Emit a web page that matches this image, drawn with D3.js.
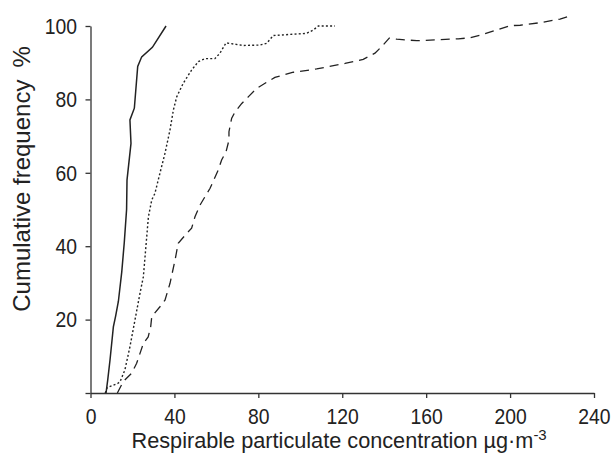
<!DOCTYPE html>
<html>
<head>
<meta charset="utf-8">
<script src="https://cdn.jsdelivr.net/npm/d3@7"></script>
<style>
  body { margin: 0; background: #fff; }
  svg text { font-family: "Liberation Sans", Arial, Helvetica, sans-serif; fill: #222; }
</style>
</head>
<body>
<svg id="chart"></svg>
<script>
// cumulative distributions (concentration, cumulative %)
const solidConc = [7.4, 8.2, 9.3, 10.9, 12, 13.3, 14.9, 16.1, 17.2, 17.4, 19.3, 18.8, 20.9, 22.5, 24.4, 29.5, 36];
const solidFreq = [0, 3.5, 9, 18, 21, 25, 33, 41, 50, 58, 68, 74.4, 77.6, 89, 91.6, 94.2, 100];

const dottedConc = [7, 8, 13, 14.1, 16.4, 18.8, 21.2, 23.6, 25.2, 27.6, 29.2, 30.7, 33.1, 35.5, 37.9, 39.5, 41.1, 44.2, 48.2, 51.4, 54.6, 59.3, 61.7, 64.6, 72.8, 80.8, 84, 87.1, 103, 106.2, 108.6, 116.5];
const dottedFreq = [0, 1.5, 2.6, 3.1, 6.3, 12.6, 19.9, 27.2, 31.7, 48, 52.6, 54.4, 59.9, 65.3, 71.7, 77.1, 80.7, 84.4, 88, 90.3, 91.1, 91.1, 92.6, 95.4, 94.7, 94.8, 95.3, 97.4, 98, 98.9, 100, 100];

const dashedConc = [12.8, 15.6, 19.6, 22, 23.6, 25.2, 27.5, 28.7, 29.2, 33.1, 35.5, 37.9, 40.3, 41.8, 45.9, 48.2, 49.8, 52.2, 57, 60.9, 62.5, 64.6, 66, 66, 67.3, 68.9, 72.1, 75.2, 79.2, 83.2, 87.9, 96.7, 107.8, 121.3, 130, 135.6, 138.8, 142.4, 146, 155.5, 175.3, 180.9, 185.7, 193.6, 200, 204.8, 214.3, 223.8, 229.6];
const dashedFreq = [0, 3.1, 5.4, 8.1, 10.8, 13.5, 15.3, 18.1, 20.8, 23.5, 25.3, 29.9, 36.2, 40.8, 43.5, 44.9, 48, 51.2, 55.8, 60.8, 63.5, 65.7, 68.9, 71.2, 74.9, 76.6, 78.9, 80.7, 83, 84.4, 86, 87.4, 88.3, 89.8, 90.9, 92.6, 94.4, 96.7, 96.4, 96, 96.5, 96.8, 97.5, 98.9, 100.1, 100.2, 100.9, 101.9, 102.9];

const xTicks = [0, 40, 80, 120, 160, 200, 240];
const yTicks = [0, 20, 40, 60, 80, 100];

const svgWidth = 611;
const svgHeight = 463;
const margin = { top: 26, right: 17, bottom: 70, left: 90.5 };
const width = svgWidth - margin.left - margin.right;
const height = svgHeight - margin.top - margin.bottom;
const squeeze = 0.86; // the original type is a condensed face

const svg = d3.select("#chart").attr("width", svgWidth).attr("height", svgHeight);
const g = svg.append("g").attr("transform", `translate(${margin.left},${margin.top})`);

const xScale = d3.scaleLinear().domain([0, 240]).range([0, width]);
const yScale = d3.scaleLinear().domain([0, 100]).range([height, 0]);

// x axis
const xAxis = g.append("g")
  .attr("transform", `translate(0, ${height})`)
  .call(d3.axisBottom(xScale).tickValues(xTicks).tickSize(5).tickPadding(10).tickSizeOuter(0));

// y axis (0 tick drawn but not labelled)
const yAxis = g.append("g")
  .call(d3.axisLeft(yScale).tickValues(yTicks).tickSize(5).tickPadding(13.5 / squeeze - 5).tickSizeOuter(0)
    .tickFormat((d) => (d === 0 ? "" : d)));

[xAxis, yAxis].forEach((a) => {
  a.selectAll("path, line").attr("stroke", "#333").attr("stroke-width", 1.3);
  a.selectAll("text")
    .style("font-size", "22.5px")
    .attr("fill", "#222")
    .attr("transform", `scale(${squeeze},1)`);
});

// lines
const line = d3.line().x((d) => xScale(d[0])).y((d) => yScale(d[1]));
const series = [
  { conc: solidConc, freq: solidFreq, dash: null, w: 1.5 },
  { conc: dottedConc, freq: dottedFreq, dash: "2,2.2", w: 1.4 },
  { conc: dashedConc, freq: dashedFreq, dash: "9,6", w: 1.3 },
];
series.forEach((s) => {
  g.append("path")
    .datum(d3.zip(s.conc, s.freq))
    .attr("fill", "none")
    .attr("stroke", "#222")
    .attr("stroke-width", s.w)
    .attr("stroke-dasharray", s.dash)
    .attr("d", line);
});

// axis titles
const xTitle = svg.append("text")
  .attr("x", 131.5)
  .attr("y", 448)
  .style("font-size", "21.7px");
xTitle.append("tspan").text("Respirable particulate concentration \u00b5g\u00b7m");
xTitle.append("tspan").attr("dy", -8).style("font-size", "15px").text("-3");

const yTitle = svg.append("text")
  .attr("transform", "translate(30,179) rotate(-90)")
  .attr("text-anchor", "middle")
  .style("font-size", "24px");
yTitle.append("tspan").text("Cumulative frequency");
yTitle.append("tspan").attr("dx", 12).text("%");
</script>
</body>
</html>
